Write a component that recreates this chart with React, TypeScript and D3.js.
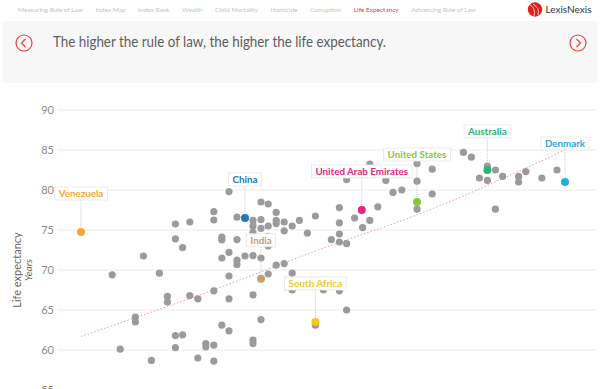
import React, { useEffect, useRef } from 'react';
import * as d3 from 'd3';

const navItems = [
  'Measuring Rule of Law',
  'Index Map',
  'Index Rank',
  'Wealth',
  'Child Mortality',
  'Homicide',
  'Corruption',
  'Life Expectancy',
  'Advancing Rule of Law',
];
const activeNav = 'Life Expectancy';
const title = 'The higher the rule of law, the higher the life expectancy.';
const yTicks = [55, 60, 65, 70, 75, 80, 85, 90];

// other countries: rule of law score / life expectancy (years)
const ruleOfLaw = [
  0.319, 0.329, 0.348, 0.348, 0.358, 0.368, 0.378, 0.388, 0.388, 0.398,
  0.398, 0.407, 0.398, 0.407, 0.398, 0.416, 0.416, 0.426, 0.426, 0.436,
  0.436, 0.446, 0.446, 0.446, 0.446, 0.446, 0.456, 0.456, 0.456, 0.456,
  0.465, 0.465, 0.465, 0.465, 0.465, 0.475, 0.475, 0.475, 0.475, 0.485,
  0.495, 0.495, 0.495, 0.495, 0.495, 0.495, 0.495, 0.505, 0.505, 0.505,
  0.505, 0.505, 0.514, 0.514, 0.514, 0.514, 0.514, 0.524, 0.524, 0.524,
  0.524, 0.534, 0.534, 0.534, 0.544, 0.544, 0.544, 0.553, 0.563, 0.573,
  0.583, 0.593, 0.603, 0.603, 0.603, 0.603, 0.603, 0.612, 0.612, 0.612,
  0.622, 0.632, 0.641, 0.641, 0.651, 0.661, 0.670, 0.681, 0.700, 0.700,
  0.700, 0.719, 0.719, 0.758, 0.768, 0.788, 0.798, 0.807, 0.778, 0.788,
  0.827, 0.827, 0.836, 0.856, 0.875, 0.798, 0.573,
];
const lifeExp = [
  69.4, 60.1, 64.1, 63.5, 71.75, 58.7, 69.6, 66.7, 66.0, 75.75,
  73.9, 72.8, 61.8, 61.9, 60.3, 76.0, 66.8, 66.4, 59.0, 60.8,
  60.4, 60.6, 58.6, 77.3, 76.25, 67.4, 74.1, 73.75, 71.5, 63.1,
  79.8, 72.2, 69.25, 66.4, 62.4, 76.6, 73.8, 71.25, 70.7, 71.75,
  76.2, 75.5, 74.7, 71.8, 66.9, 61.25, 60.8, 78.5, 76.3, 75.2,
  71.5, 63.8, 78.25, 75.5, 74.2, 73.0, 69.5, 77.2, 76.2, 75.8,
  70.6, 76.0, 74.9, 70.8, 75.5, 69.6, 67.5, 76.2, 74.6, 76.75,
  67.5, 73.8, 77.8, 75.9, 74.5, 73.5, 67.4, 81.3, 73.3, 65.0,
  76.5, 75.3, 83.25, 76.2, 77.9, 81.2, 79.7, 80.0, 83.3, 81.1,
  77.6, 82.6, 79.5, 84.7, 84.1, 83.0, 82.5, 81.7, 81.5, 81.2,
  81.7, 81.0, 82.3, 81.5, 82.5, 77.6, 63.1,
];

const featured = ['Venezuela', 'China', 'India', 'South Africa', 'United Arab Emirates', 'United States', 'Australia', 'Denmark'];
const featuredRule = [0.28, 0.485, 0.505, 0.573, 0.631, 0.7, 0.788, 0.885];
const featuredLife = [74.75, 76.5, 68.9, 63.5, 77.5, 78.5, 82.5, 81.0];

const trendRule = [0.28, 0.429, 0.604, 0.679, 0.885];
const trendLife = [61.7, 66.9, 73.5, 76.1, 85.0];

const colors = {
  Venezuela: '#f5a93a',
  China: '#2176b5',
  India: '#c99c70',
  'South Africa': '#f2c81c',
  'United Arab Emirates': '#e8247d',
  'United States': '#8cc43c',
  Australia: '#2ab473',
  Denmark: '#2aa8e0',
};

const font = 'Lato, "Open Sans", sans-serif';

export default function App() {
  const ref = useRef(null);

  useEffect(() => {
    const width = 600;
    const height = 389;
    const svg = d3.select(ref.current);
    svg.selectAll('*').remove();

    const x = d3.scaleLinear().domain([0.25, 0.92]).range([57, 593]);
    const y = d3.scaleLinear().domain([55, 90]).range([390, 110]);

    svg.append('rect').attr('width', width).attr('height', height).attr('fill', '#fff');

    // nav bar
    let nx = 18;
    navItems.forEach((item) => {
      const t = svg
        .append('text')
        .attr('x', nx)
        .attr('y', 12)
        .attr('font-family', font)
        .attr('font-size', 6.5)
        .attr('fill', item === activeNav ? '#e8403c' : '#c4c4c4')
        .text(item);
      nx += t.node().getComputedTextLength() + 12.5;
    });

    // logo
    svg.append('circle').attr('cx', 535).attr('cy', 9.5).attr('r', 7.2).attr('fill', '#d9211d');
    svg
      .append('path')
      .attr('d', 'M530,5 Q536,8 534,16 M533,4 Q540,8 538,15')
      .attr('fill', 'none')
      .attr('stroke', '#fff')
      .attr('stroke-width', 0.9)
      .attr('opacity', 0.8);
    svg
      .append('text')
      .attr('x', 545.5)
      .attr('y', 13)
      .attr('font-family', font)
      .attr('font-size', 10)
      .attr('fill', '#333')
      .text('LexisNexis');

    // title panel
    svg.append('rect').attr('x', 3).attr('y', 21).attr('width', 594).attr('height', 62).attr('fill', '#f7f7f7');
    svg
      .append('text')
      .attr('x', 53)
      .attr('y', 47)
      .attr('font-family', font)
      .attr('font-size', 15.5)
      .attr('textLength', 333)
      .attr('lengthAdjust', 'spacingAndGlyphs')
      .attr('fill', '#5e5e5e')
      .text(title);

    [
      { cx: 24, d: 'M25.5,39 L21.5,43 L25.5,47' },
      { cx: 578, d: 'M576.5,39 L580.5,43 L576.5,47' },
    ].forEach((a) => {
      svg
        .append('circle')
        .attr('cx', a.cx)
        .attr('cy', 43)
        .attr('r', 8)
        .attr('fill', 'none')
        .attr('stroke', '#e8403c')
        .attr('stroke-width', 1.2);
      svg
        .append('path')
        .attr('d', a.d)
        .attr('fill', 'none')
        .attr('stroke', '#e8403c')
        .attr('stroke-width', 1.2);
    });

    // grid + y ticks
    const grid = svg.append('g');
    yTicks.forEach((t) => {
      grid
        .append('line')
        .attr('x1', 58)
        .attr('x2', 597)
        .attr('y1', y(t))
        .attr('y2', y(t))
        .attr('stroke', '#ebebeb')
        .attr('stroke-width', 1);
      grid
        .append('text')
        .attr('x', 54)
        .attr('y', y(t) + 4)
        .attr('text-anchor', 'end')
        .attr('font-family', font)
        .attr('font-size', 11)
        .attr('fill', '#8a8a8a')
        .text(t);
    });

    // y axis title
    const yt = svg.append('g').attr('transform', 'translate(21,270) rotate(-90)');
    yt.append('text')
      .attr('text-anchor', 'middle')
      .attr('font-family', font)
      .attr('font-size', 11)
      .attr('fill', '#666')
      .text('Life expectancy');
    yt.append('text')
      .attr('y', 10.5)
      .attr('text-anchor', 'middle')
      .attr('font-family', font)
      .attr('font-style', 'italic')
      .attr('font-size', 10)
      .attr('fill', '#666')
      .text('Years');

    // trend line
    const trend = trendRule.map((r, i) => [r, trendLife[i]]);
    svg
      .append('path')
      .datum(trend)
      .attr('fill', 'none')
      .attr('stroke', '#f19a9a')
      .attr('stroke-width', 1)
      .attr('stroke-dasharray', '1.5,2')
      .attr(
        'd',
        d3
          .line()
          .curve(d3.curveMonotoneX)
          .x((d) => x(d[0]))
          .y((d) => y(d[1]))
      );

    // gray points
    svg
      .append('g')
      .selectAll('circle')
      .data(ruleOfLaw.map((r, i) => [r, lifeExp[i]]))
      .join('circle')
      .attr('cx', (d) => x(d[0]))
      .attr('cy', (d) => y(d[1]))
      .attr('r', 3.6)
      .attr('fill', '#9b9b9b');

    // featured countries
    const lift = (name) => (name === 'United States' ? 41 : 32);
    featured.forEach((name, i) => {
      const px = x(featuredRule[i]);
      const py = y(featuredLife[i]);
      const boxBottom = py - lift(name);
      const g = svg.append('g');
      g.append('line')
        .attr('x1', px)
        .attr('x2', px)
        .attr('y1', boxBottom)
        .attr('y2', py)
        .attr('stroke', '#b5b5b5')
        .attr('stroke-width', 0.8)
        .attr('stroke-dasharray', '1,1.2');
      g.append('circle').attr('cx', px).attr('cy', py).attr('r', 4).attr('fill', colors[name]);
      const box = g.append('rect');
      const label = g
        .append('text')
        .attr('x', px)
        .attr('y', boxBottom - 3)
        .attr('text-anchor', 'middle')
        .attr('font-family', font)
        .attr('font-weight', 'bold')
        .attr('font-size', 9.8)
        .attr('fill', colors[name])
        .text(name);
      const w = label.node().getComputedTextLength() + 8;
      box
        .attr('x', px - w / 2)
        .attr('y', boxBottom - 13)
        .attr('width', w)
        .attr('height', 13)
        .attr('fill', '#fff')
        .attr('stroke', '#e6e6e6')
        .attr('stroke-width', 0.8);
    });
  }, []);

  return (
    <svg
      ref={ref}
      width={600}
      height={389}
      style={{ position: 'absolute', left: 0, top: 0, display: 'block' }}
    />
  );
}
